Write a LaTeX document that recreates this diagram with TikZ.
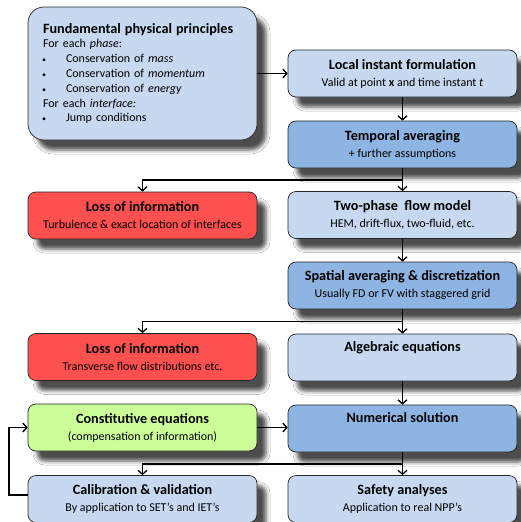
\documentclass[tikz,border=0pt]{standalone}
\usepackage{fontspec}
\setmainfont{Carlito}
\usetikzlibrary{arrows.meta,shadows.blur,calc}
\definecolor{lblue}{HTML}{C6D9F1}
\definecolor{mblue}{HTML}{8DB4E2}
\definecolor{lred}{HTML}{FF5050}
\definecolor{lgreen}{HTML}{CCFF99}
\newcommand{\ttlfont}{\fontsize{14.2}{16}\selectfont\bfseries}
\begin{document}
\begin{tikzpicture}[x=1pt,y=-1pt,
  shad/.style={blur shadow={shadow xshift=9pt,shadow yshift=-10pt,shadow blur radius=4pt,shadow opacity=70}},
  box/.style={draw=black!85, line width=0.7pt, rounded corners=8pt, minimum width=229pt, minimum height=47pt,
    align=center, inner sep=2pt, font=\fontsize{12}{17}\selectfont, text=black, shad},
  arr/.style={-{Straight Barb[length=4pt,width=9pt,line width=1.3pt]}, line width=1.6pt}
]
\useasboundingbox (0,0) rectangle (521,522);
\clip (0,0) rectangle (521,522);
\fill[white] (0,0) rectangle (521,522);

\node[box, fill=lblue, rounded corners=16pt, minimum width=229pt, minimum height=133pt, text width=199pt, align=left,
  font=\fontsize{12}{14.8}\selectfont] (fund) at (142.5,73.5) {%
  {\ttlfont Fundamental physical principles}\\
  For each \textit{phase}:\\
  \makebox[23pt][l]{\hspace{-1pt}\footnotesize\textbullet}Conservation of \textit{mass}\\
  \makebox[23pt][l]{\hspace{-1pt}\footnotesize\textbullet}Conservation of \textit{momentum}\\
  \makebox[23pt][l]{\hspace{-1pt}\footnotesize\textbullet}Conservation of \textit{energy}\\
  For each \textit{interface:}\\
  \makebox[23pt][l]{\hspace{-1pt}\footnotesize\textbullet}Jump conditions};

\node[box, fill=lblue] (local) at (402.5,73.5) {{\ttlfont Local instant formulation}\\Valid at point \textbf{x} and time instant \textit{t}};
\node[box, fill=mblue] (temporal) at (402.5,144.5) {{\ttlfont Temporal averaging}\\+ further assumptions};
\node[box, fill=lblue] (twophase) at (402.5,215) {{\ttlfont Two-phase\ \ flow model}\\HEM, drift-flux, two-fluid, etc.};
\node[box, fill=mblue] (spatial) at (402.5,285.5) {{\ttlfont Spatial averaging \& discretization}\\Usually FD or FV with staggered grid};
\node[box, fill=lblue] (algebraic) at (402.5,357.5) {{\ttlfont Algebraic equations}\\\strut};
\node[box, fill=mblue] (numerical) at (402.5,428.5) {{\ttlfont Numerical solution}\\\strut};
\node[box, fill=lblue] (safety) at (402.5,499) {{\ttlfont Safety analyses}\\Application to real NPP’s};

\node[box, fill=lred] (loss1) at (142.5,215.5) {{\ttlfont Loss of information}\\Turbulence \& exact location of interfaces};
\node[box, fill=lred] (loss2) at (142.5,357) {{\ttlfont Loss of information}\\Transverse flow distributions etc.};
\node[box, fill=lgreen] (const) at (142.5,427.5) {{\ttlfont Constitutive equations}\\(compensation of information)};
\node[box, fill=lblue] (calib) at (142.5,499) {{\ttlfont Calibration \& validation}\\By application to SET’s and IET’s};

\coordinate (b1) at ($(temporal.south)!0.5!(twophase.north)$);
\coordinate (b2) at ($(spatial.south)!0.5!(algebraic.north)$);
\coordinate (b3) at ($(numerical.south)!0.5!(safety.north)$);
\coordinate (loopc) at (9,495);

\draw[arr] (fund.east) -- (local.west);
\draw[arr] (local.south) -- (temporal.north);
\draw[arr] (temporal.south) -- (twophase.north);
\draw[arr] (b1) -| (loss1.north);
\draw[arr] (twophase.south) -- (spatial.north);
\draw[arr] (spatial.south) -- (algebraic.north);
\draw[arr] (b2) -| (loss2.north);
\draw[arr] (algebraic.south) -- (numerical.north);
\draw[arr] (const.east) -- (numerical.west |- const.east);
\draw[arr] (numerical.south) -- (safety.north);
\draw[arr] (b3) -| (calib.north);
\draw[arr] (calib.west |- loopc) -- (loopc) |- (const.west);
\end{tikzpicture}
\end{document}
